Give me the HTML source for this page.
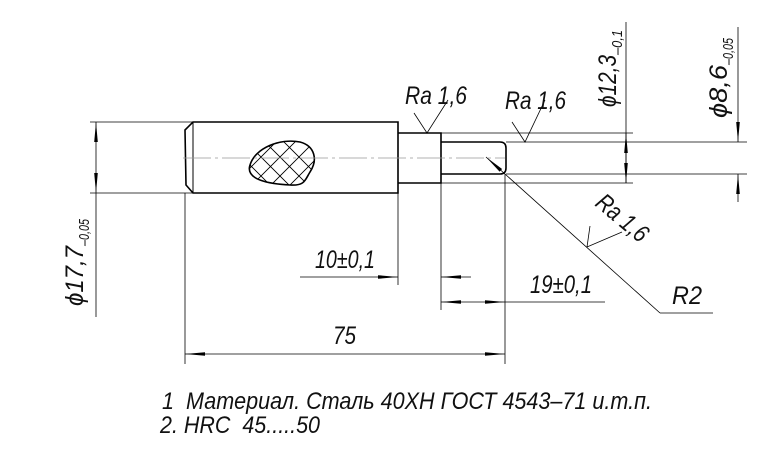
<!DOCTYPE html>
<html><head><meta charset="utf-8"><style>
html,body{margin:0;padding:0;background:#fff;}
svg{display:block;}
text{font-family:"Liberation Sans","DejaVu Sans",sans-serif;font-style:italic;fill:#111;}
.t{font-size:25px;}
.s{font-size:15px;}
.b{font-size:24px;}
</style></head><body>
<svg width="775" height="461" viewBox="0 0 775 461" xmlns="http://www.w3.org/2000/svg">
<defs>
<clipPath id="blob"><path d="M250,165 C255,148 280,138 300,142 C315,146 318,160 310,172 C305,180 305,186 290,185 C270,184 245,180 250,165 Z"/></clipPath>
<marker id="a" viewBox="0 0 20 6" refX="20" refY="3" markerWidth="20" markerHeight="6" markerUnits="userSpaceOnUse" orient="auto"><path d="M0,1.2 L20,3 L0,4.8 Z" fill="#000"/></marker>
</defs>
<g stroke="#000" fill="none">
<path d="M193,122 L398,122 L398,193 L193,193 L186,185 L185,130 Z" stroke-width="1.6"/>
<line x1="193" y1="122" x2="193" y2="193" stroke-width="1"/>
<path d="M398,133 L441,133 L441,183 L398,183" stroke-width="1.6"/>
<path d="M441,142 L500,142 Q506,142 506,148 L506,168 Q506,174 500,174 L441,174" stroke-width="1.6"/>
<path d="M250,165 C255,148 280,138 300,142 C315,146 318,160 310,172 C305,180 305,186 290,185 C270,184 245,180 250,165 Z" stroke-width="1.6"/>
<g clip-path="url(#blob)" stroke-width="0.9">
<path d="M196,130 L266,200 M215,130 L285,200 M234,130 L304,200 M253,130 L323,200 M272,130 L342,200"/>
<path d="M364,130 L294,200 M345,130 L275,200 M326,130 L256,200 M307,130 L237,200 M288,130 L218,200"/>
</g>
<line x1="183" y1="158" x2="505" y2="158" stroke="#999" stroke-width="0.8" stroke-dasharray="28,4,3,4"/>
<g stroke-width="0.8">
<line x1="90" y1="122" x2="193" y2="122"/>
<line x1="90" y1="193" x2="193" y2="193"/>
<line x1="441" y1="133" x2="633" y2="133"/>
<line x1="441" y1="183" x2="633" y2="183"/>
<line x1="506" y1="142" x2="747" y2="142"/>
<line x1="506" y1="174" x2="747" y2="174"/>
<line x1="185" y1="193" x2="185" y2="364"/>
<line x1="505" y1="174" x2="505" y2="364"/>
<line x1="398" y1="193" x2="398" y2="285"/>
<line x1="441" y1="183" x2="441" y2="310"/>
<line x1="96" y1="150" x2="96" y2="122" marker-end="url(#a)"/>
<line x1="96" y1="150" x2="96" y2="193" marker-end="url(#a)"/>
<line x1="96" y1="193" x2="96" y2="317"/>
<line x1="626" y1="22" x2="626" y2="183"/>
<line x1="626" y1="158" x2="626" y2="133" marker-end="url(#a)"/>
<line x1="626" y1="158" x2="626" y2="183" marker-end="url(#a)"/>
<line x1="738" y1="27" x2="738" y2="142" marker-end="url(#a)"/>
<line x1="738" y1="202" x2="738" y2="174" marker-end="url(#a)"/>
<line x1="300" y1="277" x2="398" y2="277" marker-end="url(#a)"/>
<line x1="471" y1="277" x2="441" y2="277" marker-end="url(#a)"/>
<line x1="473" y1="302" x2="441" y2="302" marker-end="url(#a)"/>
<line x1="473" y1="302" x2="505" y2="302" marker-end="url(#a)"/>
<line x1="505" y1="302" x2="605" y2="302"/>
<line x1="345" y1="354" x2="185" y2="354" marker-end="url(#a)"/>
<line x1="345" y1="354" x2="505" y2="354" marker-end="url(#a)"/>
<line x1="660" y1="313" x2="486" y2="157" marker-end="url(#a)"/>
<line x1="660" y1="313" x2="713" y2="313"/>
<path d="M414,113 L427,133 L448,100"/>
<path d="M512,122 L525,142 L545,100"/>
<path d="M590,226 L587,247 L622,232"/>
</g>
</g>
<text class="t" x="405" y="104" textLength="62" lengthAdjust="spacingAndGlyphs">Ra 1,6</text>
<text class="t" x="505" y="109" textLength="61" lengthAdjust="spacingAndGlyphs">Ra 1,6</text>
<text class="t" transform="translate(594,205) rotate(40)" textLength="60" lengthAdjust="spacingAndGlyphs">Ra 1,6</text>
<g transform="translate(616,107) rotate(-90)">
<text class="t" x="0" y="0" textLength="52" lengthAdjust="spacingAndGlyphs">ϕ12,3</text>
<text class="s" x="52" y="6" textLength="25" lengthAdjust="spacingAndGlyphs">–0,1</text>
</g>
<g transform="translate(727,118) rotate(-90)">
<text class="t" x="0" y="0" textLength="53" lengthAdjust="spacingAndGlyphs">ϕ8,6</text>
<text class="s" x="53" y="6" textLength="27" lengthAdjust="spacingAndGlyphs">–0,05</text>
</g>
<g transform="translate(83,306) rotate(-90)">
<text class="t" x="0" y="0" textLength="60" lengthAdjust="spacingAndGlyphs">ϕ17,7</text>
<text class="s" x="60" y="6" textLength="27" lengthAdjust="spacingAndGlyphs">–0,05</text>
</g>
<text class="t" x="315" y="268" textLength="60" lengthAdjust="spacingAndGlyphs">10±0,1</text>
<text class="t" x="530" y="293" textLength="62" lengthAdjust="spacingAndGlyphs">19±0,1</text>
<text class="t" x="333" y="344" textLength="23" lengthAdjust="spacingAndGlyphs">75</text>
<text class="t" x="672" y="304" textLength="30" lengthAdjust="spacingAndGlyphs">R2</text>
<text class="b" x="162" y="409" textLength="490" lengthAdjust="spacingAndGlyphs">1&#160;&#160;Материал. Сталь 40ХН ГОСТ 4543–71 и.т.п.</text>
<text class="b" x="160" y="433" textLength="160" lengthAdjust="spacingAndGlyphs">2. HRC&#160;&#160;45.....50</text>
</svg>
</body></html>
